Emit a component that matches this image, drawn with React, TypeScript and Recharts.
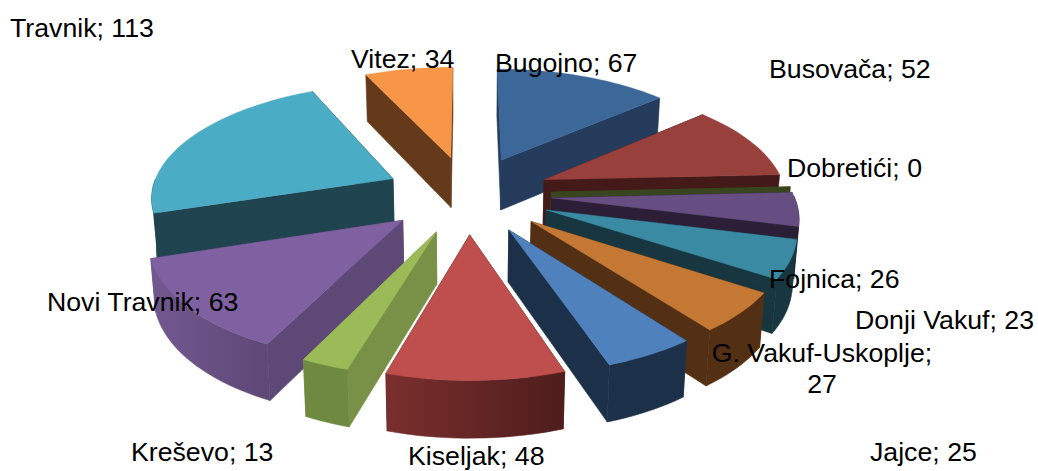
import { Pie, PieChart } from "recharts";

const CATEGORIES = [
  "Bugojno",
  "Busovača",
  "Dobretići",
  "Donji Vakuf",
  "Fojnica",
  "G. Vakuf-Uskoplje",
  "Jajce",
  "Kiseljak",
  "Kreševo",
  "Novi Travnik",
  "Travnik",
  "Vitez",
];
const VALUES = [67, 52, 0, 23, 26, 27, 25, 48, 13, 63, 113, 34];

const TOP_COLORS = ["#3C6899", "#97403C", "#4A5A28", "#664E82", "#3A8AA3", "#C47834", "#4F81BD", "#BE4F4C", "#9BBB59", "#7F60A0", "#4BACC6", "#F79646"];
const SIDE_COLORS = ["#243B5C", "#431A18", "#39451F", "#2B1E36", "#17363F", "#532F14", "#1C304A", "#4E1D1C", "#789146", "#5D4876", "#1F444F", "#653A1B"];
const RIM_LEFT = ["#243B5C", "#431A18", "#39451F", "#2B1E36", "#17363F", "#532F14", "#1C304A", "#7A2F2D", "#6F8A40", "#735890", "#1F444F", "#653A1B"];
const RIM_RIGHT = ["#243B5C", "#431A18", "#39451F", "#2B1E36", "#17363F", "#532F14", "#1C304A", "#4E1D1C", "#6F8A40", "#5D4876", "#1F444F", "#653A1B"];

// hand placed, like the data labels in the source chart: x, first baseline, anchor
const LABEL_POS: [number, number, string][] = [
  [495, 72, "start"],
  [769, 78, "start"],
  [787, 177, "start"],
  [855, 329, "start"],
  [769, 288, "start"],
  [822, 362, "middle"],
  [870, 461, "start"],
  [408, 465, "start"],
  [131, 461, "start"],
  [47, 311, "start"],
  [10, 37, "start"],
  [351, 68, "start"],
];

const table = CATEGORIES.map((name, i) => ({ name, value: VALUES[i], idx: i }));
const reversed = [...table].reverse();

const SQUASH = 0.465;
const PERSPECTIVE = 0.14;
const EXPLODE = 0.345;

function SliceShape(props: any, show: (i: number) => boolean) {
  const idx = props.payload?.idx ?? props.idx;
  if (!show(idx)) return <g />;
  const { cx, cy, outerRadius, startAngle, endAngle } = props;
  const a0 = Math.min(startAngle, endAngle);
  const a1 = Math.max(startAngle, endAngle);
  const mid = (((a0 + a1) / 2) * Math.PI) / 180;
  const ou = EXPLODE * Math.cos(mid);
  const ov = -EXPLODE * Math.sin(mid);

  const top = (u: number, v: number) => {
    const s = 1 / (1 - PERSPECTIVE * v);
    return [cx + u * outerRadius * s, cy + v * outerRadius * SQUASH * s];
  };
  const bottom = (u: number, v: number) => {
    const s = 1 / (1 - PERSPECTIVE * v);
    const [x, y] = top(u, v);
    return [cx + (x - cx) * 0.985, y + 22 + 29 * s];
  };
  const rim = (deg: number): [number, number] => {
    const r = (deg * Math.PI) / 180;
    return [ou + Math.cos(r), ov - Math.sin(r)];
  };
  const toPath = (pts: number[][]) =>
    "M" + pts.map((p) => p[0].toFixed(1) + "," + p[1].toFixed(1)).join("L") + "Z";

  const steps = Math.max(1, Math.ceil((a1 - a0) / 2));
  const arc: [number, number][] = [];
  for (let i = 0; i <= steps; i++) arc.push(rim(a0 + ((a1 - a0) * i) / steps));

  const first = arc[0];
  const last = arc[arc.length - 1];
  const apexTop = top(ou, ov);
  const apexBottom = bottom(ou, ov);

  const sideA = [apexTop, top(first[0], first[1]), bottom(first[0], first[1]), apexBottom];
  const sideB = [apexTop, top(last[0], last[1]), bottom(last[0], last[1]), apexBottom];

  // only the part of the rim that faces the viewer
  const front = arc.filter((p) => p[1] - ov > -0.02);
  const rimPts = [
    ...front.map((p) => top(p[0], p[1])),
    ...[...front].reverse().map((p) => bottom(p[0], p[1])),
  ];
  const gradId = `rim-${idx}`;
  const side = SIDE_COLORS[idx];

  return (
    <g>
      <defs>
        <linearGradient id={gradId} x1="0" y1="0" x2="1" y2="0">
          <stop offset="0%" stopColor={RIM_LEFT[idx]} />
          <stop offset="100%" stopColor={RIM_RIGHT[idx]} />
        </linearGradient>
      </defs>
      <path d={toPath(sideA)} fill={side} stroke={side} strokeWidth={0.6} />
      <path d={toPath(sideB)} fill={side} stroke={side} strokeWidth={0.6} />
      {front.length > 1 && (
        <path d={toPath(rimPts)} fill={`url(#${gradId})`} stroke={`url(#${gradId})`} strokeWidth={0.6} />
      )}
      {a1 > a0 && (
        <path
          d={toPath([apexTop, ...arc.map((p) => top(p[0], p[1]))])}
          fill={TOP_COLORS[idx]}
          stroke={TOP_COLORS[idx]}
          strokeWidth={0.4}
        />
      )}
    </g>
  );
}

const renderLabel = (props: any) => {
  const idx = props.payload?.idx ?? props.idx ?? props.index;
  const [x, y, anchor] = LABEL_POS[idx];
  const text = `${CATEGORIES[idx]}; ${VALUES[idx]}`;
  const common = { fill: "#000000", fontFamily: "Liberation Sans", fontSize: 26.7, textAnchor: anchor as any };
  if (CATEGORIES[idx].startsWith("G. ")) {
    return (
      <text {...common} key={idx}>
        <tspan x={x} y={y}>{CATEGORIES[idx]};</tspan>
        <tspan x={x} y={y + 31}>{VALUES[idx]}</tspan>
      </text>
    );
  }
  return (
    <text {...common} x={x} y={y} key={idx}>
      {text}
    </text>
  );
};

export default function App() {
  const pieProps = {
    dataKey: "value",
    nameKey: "name",
    cx: 468,
    cy: 194,
    outerRadius: 242,
    isAnimationActive: false,
    stroke: "none",
    rootTabIndex: -1,
  };
  return (
    <div style={{ position: "absolute", left: 0, top: 0, width: 1038, height: 471, background: "#ffffff" }}>
      <PieChart width={1038} height={471} margin={{ top: 0, right: 0, bottom: 0, left: 0 }}>
        {/* left half goes back to front, so it runs the other way round */}
        <Pie
          {...pieProps}
          data={reversed}
          startAngle={-270}
          endAngle={90}
          shape={(p: any) => SliceShape(p, (i) => i >= 7)}
        />
        <Pie
          {...pieProps}
          data={table}
          startAngle={90}
          endAngle={-270}
          shape={(p: any) => SliceShape(p, (i) => i < 7)}
        />
        <Pie
          {...pieProps}
          data={table}
          startAngle={90}
          endAngle={-270}
          shape={() => <g />}
          label={renderLabel}
          labelLine={false}
        />
      </PieChart>
    </div>
  );
}
